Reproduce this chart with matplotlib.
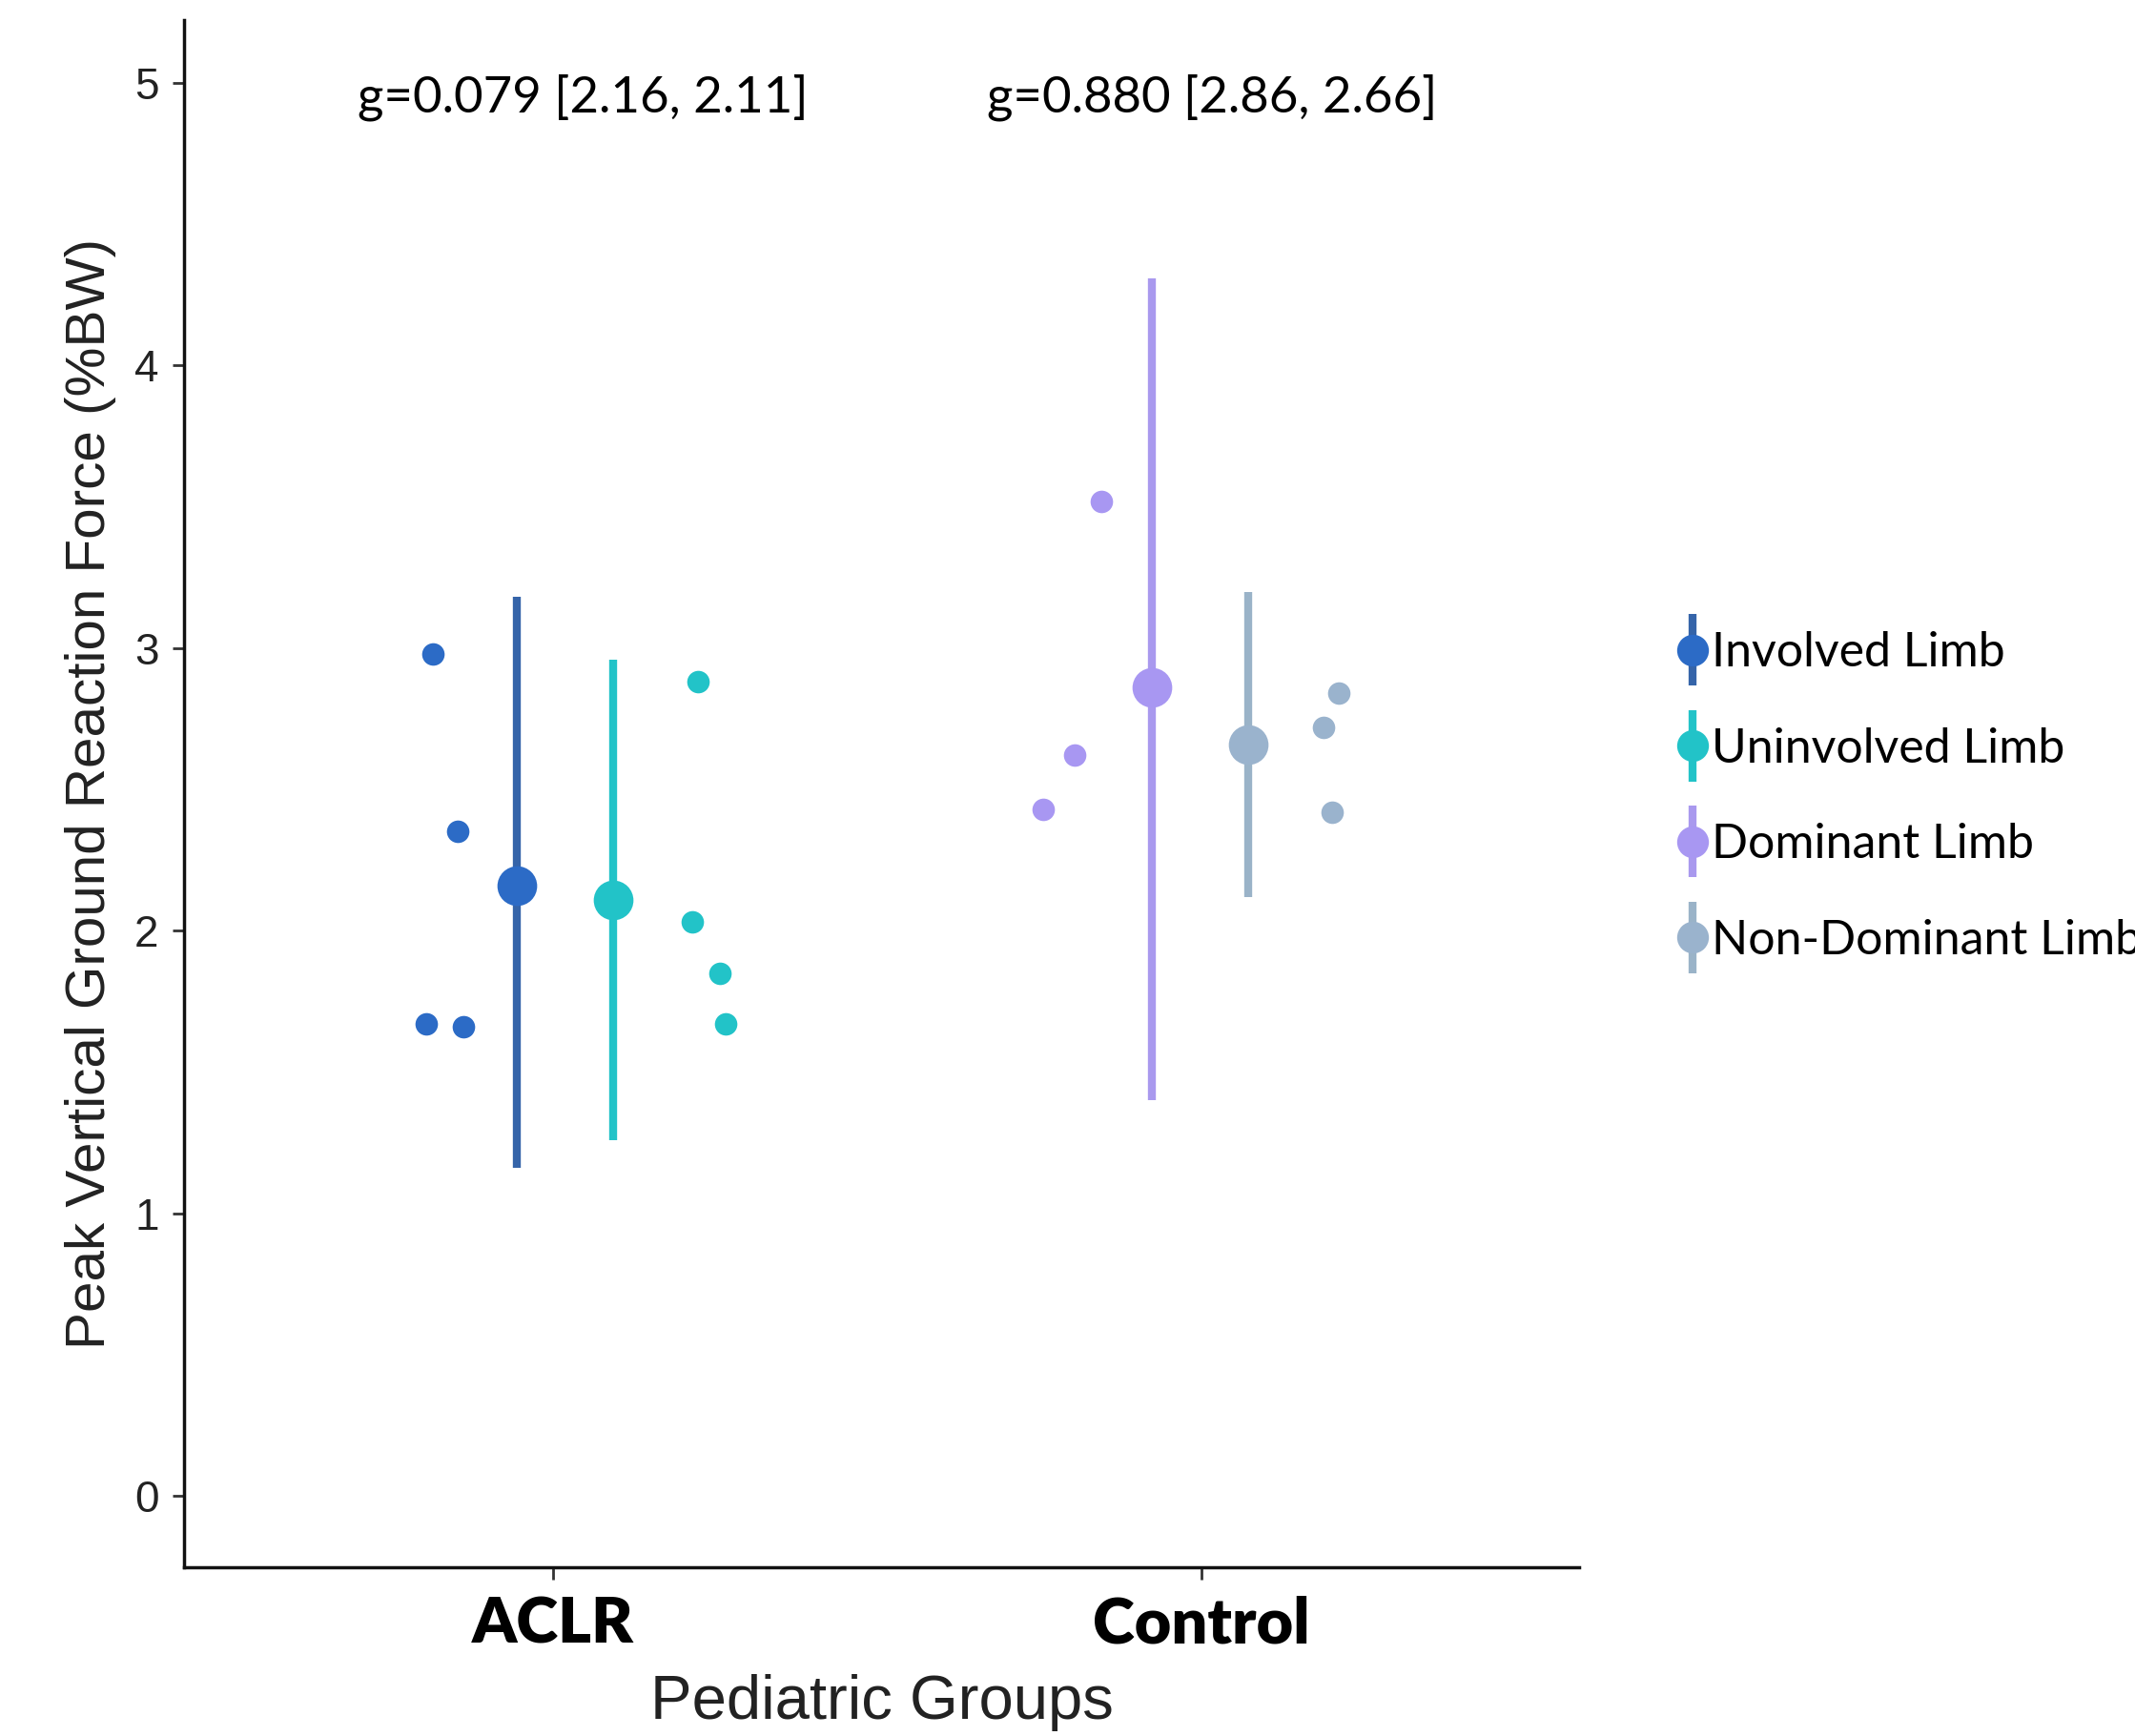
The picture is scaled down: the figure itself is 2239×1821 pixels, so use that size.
import matplotlib
matplotlib.use("Agg")
import matplotlib.pyplot as plt
from matplotlib.legend_handler import HandlerErrorbar
from matplotlib.container import ErrorbarContainer
import numpy as np

# categories / series
groups = ["ACLR", "Control"]
limbs = ["Involved Limb", "Uninvolved Limb", "Dominant Limb", "Non-Dominant Limb"]
limb_group = [0, 0, 1, 1]

means = [2.16, 2.11, 2.86, 2.66]
ci_low = [1.16, 1.26, 1.40, 2.12]
ci_high = [3.18, 2.96, 4.31, 3.20]

# individual subjects per limb
pts_involved = [2.98, 2.35, 1.67, 1.66]
pts_uninvolved = [2.88, 2.03, 1.85, 1.67]
pts_dominant = [3.52, 2.62, 2.43]
pts_nondominant = [2.84, 2.72, 2.42]
points = [pts_involved, pts_uninvolved, pts_dominant, pts_nondominant]

# horizontal jitter (as drawn) of the points within each group
jit_involved = [-0.185, -0.147, -0.196, -0.138]
jit_uninvolved = [0.224, 0.215, 0.257, 0.266]
jit_dominant = [-0.154, -0.196, -0.244]
jit_nondominant = [0.212, 0.188, 0.201]
jitters = [jit_involved, jit_uninvolved, jit_dominant, jit_nondominant]
mean_dodge = [-0.056, 0.093, -0.076, 0.072]

effect_labels = ["g=0.079 [2.16, 2.11]", "g=0.880 [2.86, 2.66]"]

colors = ["#2c6bc6", "#22c3c8", "#a897f2", "#9ab3cd"]
bar_colors = ["#3564a9", "#22c3c8", "#a999ee", "#9ab3c8"]

fig = plt.figure(figsize=(22.39, 18.21), dpi=100)
ax = fig.add_axes([0.0862, 0.0972, 0.6534, 0.8913])

handles = []
for i, limb in enumerate(limbs):
    gx = limb_group[i] + 1
    xs = [gx + j for j in jitters[i]]
    ax.plot(xs, points[i], 'o', color=colors[i], markersize=17,
            markeredgewidth=0, zorder=3)
    m = means[i]
    eb = ax.errorbar(gx + mean_dodge[i], m,
                     yerr=[[m - ci_low[i]], [ci_high[i] - m]],
                     fmt='o', color=colors[i], ecolor=bar_colors[i],
                     elinewidth=6, markersize=30, markeredgewidth=0,
                     capsize=0, label=limb, zorder=4)
    handles.append(eb)

# effect sizes above each group
for k, txt in enumerate(effect_labels):
    ax.text(k + 1 + (0.046 if k == 0 else 0.016), 4.95, txt, ha='center', va='center',
            fontsize=38, family='Lato', fontweight='normal', color='black')

ax.set_xlim(0.431, 2.582)
ax.set_ylim(-0.253, 5.223)
ax.set_xticks([1, 2])
ax.set_xticklabels(groups, fontsize=48, fontweight='heavy', family='Lato')
ax.set_yticks([0, 1, 2, 3, 4, 5])
ax.set_yticklabels(['0', '1', '2', '3', '4', '5'], fontsize=33,
                   family='Liberation Sans', color='#222222')
ax.tick_params(axis='both', length=9, width=2, color='#333333', direction='out')
ax.tick_params(axis='x', pad=12)
ax.tick_params(axis='y', pad=10)

for s in ['top', 'right']:
    ax.spines[s].set_visible(False)
for s in ['left', 'bottom']:
    ax.spines[s].set_linewidth(2.5)
    ax.spines[s].set_color('#111111')

ax.set_ylabel("Peak Vertical Ground Reaction Force (%BW)", fontsize=42,
              family='Liberation Sans', color='#222222', labelpad=14)
ax.set_xlabel("Pediatric Groups", fontsize=47, family='Liberation Sans',
              color='#222222', labelpad=16)

leg = fig.legend(handles=handles, labels=limbs, loc='center left',
                 bbox_to_anchor=(0.786, 0.541), frameon=False,
                 prop={'family': 'Lato', 'size': 36},
                 handlelength=0.6, handletextpad=0.1, labelspacing=1.09,
                 borderpad=0, borderaxespad=0, markerscale=0.8,
                 handler_map={ErrorbarContainer: HandlerErrorbar(yerr_size=0.75)})

fig.savefig("out.png", dpi=100)
